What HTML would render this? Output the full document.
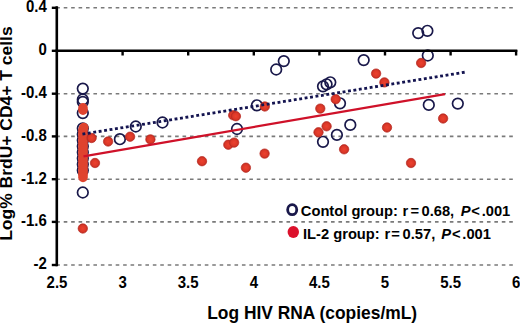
<!DOCTYPE html>
<html><head><meta charset="utf-8"><style>
html,body{margin:0;padding:0;background:#fff;width:520px;height:325px;overflow:hidden;font-family:"Liberation Sans",sans-serif;}
</style></head><body>
<svg width="520" height="325" viewBox="0 0 520 325" style="position:absolute;left:0;top:0">
<defs><radialGradient id="rg" cx="0.5" cy="0.5" r="0.5"><stop offset="0" stop-color="#ec412f"/><stop offset="0.65" stop-color="#dc3828"/><stop offset="1" stop-color="#bf2c22"/></radialGradient></defs>
<line x1="56.3" y1="7.8" x2="513.5" y2="7.8" stroke="#7a7a7a" stroke-width="1.6" stroke-dasharray="3.6 3.825"/>
<line x1="56.3" y1="93.7" x2="513.5" y2="93.7" stroke="#7a7a7a" stroke-width="1.6" stroke-dasharray="3.6 3.825"/>
<line x1="56.3" y1="136.4" x2="513.5" y2="136.4" stroke="#7a7a7a" stroke-width="1.6" stroke-dasharray="3.6 3.825"/>
<line x1="56.3" y1="179.2" x2="513.5" y2="179.2" stroke="#7a7a7a" stroke-width="1.6" stroke-dasharray="3.6 3.825"/>
<line x1="56.3" y1="221.9" x2="513.5" y2="221.9" stroke="#7a7a7a" stroke-width="1.6" stroke-dasharray="3.6 3.825"/>
<line x1="56.3" y1="265" x2="513.5" y2="265" stroke="#7a7a7a" stroke-width="1.6" stroke-dasharray="3.6 3.825"/>
<circle cx="82.8" cy="128.3" r="5.3" fill="none" stroke="#19184a" stroke-width="1.7"/>
<circle cx="82.8" cy="134.3" r="5.3" fill="none" stroke="#19184a" stroke-width="1.7"/>
<circle cx="82.8" cy="140.3" r="5.3" fill="none" stroke="#19184a" stroke-width="1.7"/>
<circle cx="82.8" cy="146.3" r="5.3" fill="none" stroke="#19184a" stroke-width="1.7"/>
<circle cx="82.8" cy="152.3" r="5.3" fill="none" stroke="#19184a" stroke-width="1.7"/>
<circle cx="82.8" cy="158.3" r="5.3" fill="none" stroke="#19184a" stroke-width="1.7"/>
<circle cx="82.8" cy="164.3" r="5.3" fill="none" stroke="#19184a" stroke-width="1.7"/>
<circle cx="82.8" cy="170.3" r="5.3" fill="none" stroke="#19184a" stroke-width="1.7"/>
<circle cx="82.8" cy="88.6" r="5.3" fill="none" stroke="#19184a" stroke-width="1.7"/>
<circle cx="82.8" cy="99.5" r="5.3" fill="none" stroke="#19184a" stroke-width="1.7"/>
<circle cx="82.8" cy="101.9" r="5.3" fill="none" stroke="#19184a" stroke-width="1.7"/>
<circle cx="82.8" cy="113.1" r="5.3" fill="none" stroke="#19184a" stroke-width="1.7"/>
<circle cx="82.8" cy="192.5" r="5.3" fill="none" stroke="#19184a" stroke-width="1.7"/>
<circle cx="119.9" cy="139.2" r="5.3" fill="none" stroke="#19184a" stroke-width="1.7"/>
<circle cx="135.8" cy="126.5" r="5.3" fill="none" stroke="#19184a" stroke-width="1.7"/>
<circle cx="162.5" cy="122.5" r="5.3" fill="none" stroke="#19184a" stroke-width="1.7"/>
<circle cx="237.0" cy="129.0" r="5.3" fill="none" stroke="#19184a" stroke-width="1.7"/>
<circle cx="256.9" cy="105.3" r="5.3" fill="none" stroke="#19184a" stroke-width="1.7"/>
<circle cx="276.2" cy="69.5" r="5.3" fill="none" stroke="#19184a" stroke-width="1.7"/>
<circle cx="283.8" cy="61.1" r="5.3" fill="none" stroke="#19184a" stroke-width="1.7"/>
<circle cx="323" cy="86.3" r="5.3" fill="none" stroke="#19184a" stroke-width="1.7"/>
<circle cx="326.6" cy="84.3" r="5.3" fill="none" stroke="#19184a" stroke-width="1.7"/>
<circle cx="330.3" cy="82.3" r="5.3" fill="none" stroke="#19184a" stroke-width="1.7"/>
<circle cx="340" cy="103.3" r="5.3" fill="none" stroke="#19184a" stroke-width="1.7"/>
<circle cx="350.3" cy="124.9" r="5.3" fill="none" stroke="#19184a" stroke-width="1.7"/>
<circle cx="336.9" cy="134.9" r="5.3" fill="none" stroke="#19184a" stroke-width="1.7"/>
<circle cx="323" cy="141.8" r="5.3" fill="none" stroke="#19184a" stroke-width="1.7"/>
<circle cx="363.7" cy="60.1" r="5.3" fill="none" stroke="#19184a" stroke-width="1.7"/>
<circle cx="418.2" cy="33.1" r="5.3" fill="none" stroke="#19184a" stroke-width="1.7"/>
<circle cx="427.4" cy="30.8" r="5.3" fill="none" stroke="#19184a" stroke-width="1.7"/>
<circle cx="427.8" cy="55.5" r="5.3" fill="none" stroke="#19184a" stroke-width="1.7"/>
<circle cx="428.8" cy="104.9" r="5.3" fill="none" stroke="#19184a" stroke-width="1.7"/>
<circle cx="457.8" cy="103.6" r="5.3" fill="none" stroke="#19184a" stroke-width="1.7"/>
<circle cx="83" cy="107.8" r="4.75" fill="#df432f"/>
<circle cx="83" cy="110.2" r="4.75" fill="#df432f"/>
<circle cx="83.8" cy="127.5" r="4.75" fill="#df432f"/>
<circle cx="83" cy="129.5" r="4.75" fill="#df432f"/>
<circle cx="83" cy="131.5" r="4.75" fill="#df432f"/>
<circle cx="83" cy="133.5" r="4.75" fill="#df432f"/>
<circle cx="83" cy="135.5" r="4.75" fill="#df432f"/>
<circle cx="83" cy="137.5" r="4.75" fill="#df432f"/>
<circle cx="83" cy="139.5" r="4.75" fill="#df432f"/>
<circle cx="83" cy="141.5" r="4.75" fill="#df432f"/>
<circle cx="83" cy="143.5" r="4.75" fill="#df432f"/>
<circle cx="83" cy="145.5" r="4.75" fill="#df432f"/>
<circle cx="83" cy="147.5" r="4.75" fill="#df432f"/>
<circle cx="83" cy="149.5" r="4.75" fill="#df432f"/>
<circle cx="83" cy="151.5" r="4.75" fill="#df432f"/>
<circle cx="83" cy="153.5" r="4.75" fill="#df432f"/>
<circle cx="83" cy="155.5" r="4.75" fill="#df432f"/>
<circle cx="83" cy="157.5" r="4.75" fill="#df432f"/>
<circle cx="83" cy="159.5" r="4.75" fill="#df432f"/>
<circle cx="83" cy="161.5" r="4.75" fill="#df432f"/>
<circle cx="83" cy="163.5" r="4.75" fill="#df432f"/>
<circle cx="83" cy="165.5" r="4.75" fill="#df432f"/>
<circle cx="83" cy="167.5" r="4.75" fill="#df432f"/>
<circle cx="83" cy="169.5" r="4.75" fill="#df432f"/>
<circle cx="83" cy="171.5" r="4.75" fill="#df432f"/>
<circle cx="83" cy="173.5" r="4.75" fill="#df432f"/>
<circle cx="83" cy="175.5" r="4.75" fill="#df432f"/>
<circle cx="83" cy="177.5" r="4.75" fill="#df432f"/>
<circle cx="91.6" cy="138" r="4.7" fill="url(#rg)" stroke="#b92a21" stroke-width="0.7"/>
<circle cx="95.0" cy="163.0" r="4.7" fill="url(#rg)" stroke="#b92a21" stroke-width="0.7"/>
<circle cx="108.1" cy="141.5" r="4.7" fill="url(#rg)" stroke="#b92a21" stroke-width="0.7"/>
<circle cx="130.1" cy="136.7" r="4.7" fill="url(#rg)" stroke="#b92a21" stroke-width="0.7"/>
<circle cx="150.4" cy="139.4" r="4.7" fill="url(#rg)" stroke="#b92a21" stroke-width="0.7"/>
<circle cx="202" cy="161.2" r="4.7" fill="url(#rg)" stroke="#b92a21" stroke-width="0.7"/>
<circle cx="233.2" cy="115.3" r="4.7" fill="url(#rg)" stroke="#b92a21" stroke-width="0.7"/>
<circle cx="235.9" cy="116.2" r="4.7" fill="url(#rg)" stroke="#b92a21" stroke-width="0.7"/>
<circle cx="228.3" cy="144.7" r="4.7" fill="url(#rg)" stroke="#b92a21" stroke-width="0.7"/>
<circle cx="234.1" cy="142.6" r="4.7" fill="url(#rg)" stroke="#b92a21" stroke-width="0.7"/>
<circle cx="245.9" cy="167.7" r="4.7" fill="url(#rg)" stroke="#b92a21" stroke-width="0.7"/>
<circle cx="264.8" cy="106.5" r="4.7" fill="url(#rg)" stroke="#b92a21" stroke-width="0.7"/>
<circle cx="264.6" cy="153.6" r="4.7" fill="url(#rg)" stroke="#b92a21" stroke-width="0.7"/>
<circle cx="320.3" cy="108.6" r="4.7" fill="url(#rg)" stroke="#b92a21" stroke-width="0.7"/>
<circle cx="335.7" cy="99.2" r="4.7" fill="url(#rg)" stroke="#b92a21" stroke-width="0.7"/>
<circle cx="326.6" cy="126.3" r="4.7" fill="url(#rg)" stroke="#b92a21" stroke-width="0.7"/>
<circle cx="318.5" cy="132.3" r="4.7" fill="url(#rg)" stroke="#b92a21" stroke-width="0.7"/>
<circle cx="344.1" cy="149.3" r="4.7" fill="url(#rg)" stroke="#b92a21" stroke-width="0.7"/>
<circle cx="376.1" cy="73.6" r="4.7" fill="url(#rg)" stroke="#b92a21" stroke-width="0.7"/>
<circle cx="384.4" cy="82.4" r="4.7" fill="url(#rg)" stroke="#b92a21" stroke-width="0.7"/>
<circle cx="387" cy="127.5" r="4.7" fill="url(#rg)" stroke="#b92a21" stroke-width="0.7"/>
<circle cx="411" cy="163" r="4.7" fill="url(#rg)" stroke="#b92a21" stroke-width="0.7"/>
<circle cx="421.1" cy="63" r="4.7" fill="url(#rg)" stroke="#b92a21" stroke-width="0.7"/>
<circle cx="443.1" cy="118.5" r="4.7" fill="url(#rg)" stroke="#b92a21" stroke-width="0.7"/>
<circle cx="82.8" cy="228.5" r="4.7" fill="url(#rg)" stroke="#b92a21" stroke-width="0.7"/>
<line x1="83.5" y1="156.3" x2="445" y2="94.1" stroke="#cf1129" stroke-width="2.2"/>
<line x1="82" y1="134.2" x2="465" y2="72.2" stroke="#141450" stroke-width="2.8" stroke-dasharray="2.9 2.59" stroke-dashoffset="-0.45"/>
<line x1="56.8" y1="6.3" x2="56.8" y2="266.3" stroke="#000" stroke-width="2.6"/>
<line x1="55.5" y1="50.8" x2="517.3" y2="50.8" stroke="#000" stroke-width="2.6"/>
<line x1="51.8" y1="7.8" x2="57" y2="7.8" stroke="#000" stroke-width="2.4"/>
<line x1="51.8" y1="50.8" x2="57" y2="50.8" stroke="#000" stroke-width="2.4"/>
<line x1="51.8" y1="93.7" x2="57" y2="93.7" stroke="#000" stroke-width="2.4"/>
<line x1="51.8" y1="136.4" x2="57" y2="136.4" stroke="#000" stroke-width="2.4"/>
<line x1="51.8" y1="179.2" x2="57" y2="179.2" stroke="#000" stroke-width="2.4"/>
<line x1="51.8" y1="221.9" x2="57" y2="221.9" stroke="#000" stroke-width="2.4"/>
<line x1="51.8" y1="265" x2="57" y2="265" stroke="#000" stroke-width="2.4"/>
<line x1="122.6" y1="50" x2="122.6" y2="55.5" stroke="#000" stroke-width="2.4"/>
<line x1="188.2" y1="50" x2="188.2" y2="55.5" stroke="#000" stroke-width="2.4"/>
<line x1="253.8" y1="50" x2="253.8" y2="55.5" stroke="#000" stroke-width="2.4"/>
<line x1="319.4" y1="50" x2="319.4" y2="55.5" stroke="#000" stroke-width="2.4"/>
<line x1="385.0" y1="50" x2="385.0" y2="55.5" stroke="#000" stroke-width="2.4"/>
<line x1="450.6" y1="50" x2="450.6" y2="55.5" stroke="#000" stroke-width="2.4"/>
<line x1="516.1" y1="50" x2="516.1" y2="55.5" stroke="#000" stroke-width="2.4"/>
<text transform="translate(46.8,12.1) scale(1,1.09)" x="0" y="0" font-family="Liberation Sans, sans-serif" font-weight="bold" font-size="15" text-anchor="end">0.4</text>
<text transform="translate(46.8,55.1) scale(1,1.09)" x="0" y="0" font-family="Liberation Sans, sans-serif" font-weight="bold" font-size="15" text-anchor="end">0</text>
<text transform="translate(46.8,98.0) scale(1,1.09)" x="0" y="0" font-family="Liberation Sans, sans-serif" font-weight="bold" font-size="15" text-anchor="end">-0.4</text>
<text transform="translate(46.8,140.7) scale(1,1.09)" x="0" y="0" font-family="Liberation Sans, sans-serif" font-weight="bold" font-size="15" text-anchor="end">-0.8</text>
<text transform="translate(46.8,183.5) scale(1,1.09)" x="0" y="0" font-family="Liberation Sans, sans-serif" font-weight="bold" font-size="15" text-anchor="end">-1.2</text>
<text transform="translate(46.8,226.2) scale(1,1.09)" x="0" y="0" font-family="Liberation Sans, sans-serif" font-weight="bold" font-size="15" text-anchor="end">-1.6</text>
<text transform="translate(46.8,269.3) scale(1,1.09)" x="0" y="0" font-family="Liberation Sans, sans-serif" font-weight="bold" font-size="15" text-anchor="end">-2</text>
<text transform="translate(57.0,288.0) scale(1,1.09)" x="0" y="0" font-family="Liberation Sans, sans-serif" font-weight="bold" font-size="15" text-anchor="middle">2.5</text>
<text transform="translate(122.6,288.0) scale(1,1.09)" x="0" y="0" font-family="Liberation Sans, sans-serif" font-weight="bold" font-size="15" text-anchor="middle">3</text>
<text transform="translate(188.2,288.0) scale(1,1.09)" x="0" y="0" font-family="Liberation Sans, sans-serif" font-weight="bold" font-size="15" text-anchor="middle">3.5</text>
<text transform="translate(253.8,288.0) scale(1,1.09)" x="0" y="0" font-family="Liberation Sans, sans-serif" font-weight="bold" font-size="15" text-anchor="middle">4</text>
<text transform="translate(319.4,288.0) scale(1,1.09)" x="0" y="0" font-family="Liberation Sans, sans-serif" font-weight="bold" font-size="15" text-anchor="middle">4.5</text>
<text transform="translate(385.0,288.0) scale(1,1.09)" x="0" y="0" font-family="Liberation Sans, sans-serif" font-weight="bold" font-size="15" text-anchor="middle">5</text>
<text transform="translate(450.6,288.0) scale(1,1.09)" x="0" y="0" font-family="Liberation Sans, sans-serif" font-weight="bold" font-size="15" text-anchor="middle">5.5</text>
<text transform="translate(516.2,288.0) scale(1,1.09)" x="0" y="0" font-family="Liberation Sans, sans-serif" font-weight="bold" font-size="15" text-anchor="middle">6</text>
<text transform="translate(207.2,318.8) scale(1,1.07)" x="0" y="0" font-family="Liberation Sans, sans-serif" font-weight="bold" font-size="17.4">Log HIV RNA (copies/mL)</text>
<text transform="translate(12.4,240.8) rotate(-90) scale(1.065,1)" x="0" y="0" font-family="Liberation Sans, sans-serif" font-weight="bold" font-size="16.4">Log% BrdU+ CD4+ T cells</text>
<ellipse cx="292.2" cy="209.7" rx="4.55" ry="5.0" fill="#fff" stroke="#19184a" stroke-width="2.8"/>
<ellipse cx="293.3" cy="231.9" rx="5.7" ry="6.0" fill="#dc112c"/>
<text transform="translate(300.8,216.0) scale(1,1.05)" x="0" y="0" font-family="Liberation Sans, sans-serif" font-weight="bold" font-size="14.7">Contol group:</text>
<text transform="translate(402.5,216.0) scale(1,1.05)" x="0" y="0" font-family="Liberation Sans, sans-serif" font-weight="bold" font-size="14.7">r</text>
<text transform="translate(410.6,216.0) scale(1,1.05)" x="0" y="0" font-family="Liberation Sans, sans-serif" font-weight="bold" font-size="14.7">=</text>
<text transform="translate(421.5,216.0) scale(1,1.05)" x="0" y="0" font-family="Liberation Sans, sans-serif" font-weight="bold" font-size="14.7">0.68,</text>
<text transform="translate(460.8,216.0) scale(1,1.05)" x="0" y="0" font-family="Liberation Sans, sans-serif" font-weight="bold" font-size="14.7" font-style="italic">P</text>
<text transform="translate(471.3,216.0) scale(1,1.05)" x="0" y="0" font-family="Liberation Sans, sans-serif" font-weight="bold" font-size="14.7">&lt;</text>
<text transform="translate(481.7,216.0) scale(1,1.05)" x="0" y="0" font-family="Liberation Sans, sans-serif" font-weight="bold" font-size="14.7">.001</text>
<text transform="translate(303.0,238.8) scale(1,1.05)" x="0" y="0" font-family="Liberation Sans, sans-serif" font-weight="bold" font-size="14.7">IL-2 group:</text>
<text transform="translate(384.6,238.8) scale(1,1.05)" x="0" y="0" font-family="Liberation Sans, sans-serif" font-weight="bold" font-size="14.7">r</text>
<text transform="translate(391.2,238.8) scale(1,1.05)" x="0" y="0" font-family="Liberation Sans, sans-serif" font-weight="bold" font-size="14.7">=</text>
<text transform="translate(402.6,238.8) scale(1,1.05)" x="0" y="0" font-family="Liberation Sans, sans-serif" font-weight="bold" font-size="14.7">0.57,</text>
<text transform="translate(441.3,238.8) scale(1,1.05)" x="0" y="0" font-family="Liberation Sans, sans-serif" font-weight="bold" font-size="14.7" font-style="italic">P</text>
<text transform="translate(451.9,238.8) scale(1,1.05)" x="0" y="0" font-family="Liberation Sans, sans-serif" font-weight="bold" font-size="14.7">&lt;</text>
<text transform="translate(462.3,238.8) scale(1,1.05)" x="0" y="0" font-family="Liberation Sans, sans-serif" font-weight="bold" font-size="14.7">.001</text>
</svg>
</body></html>
